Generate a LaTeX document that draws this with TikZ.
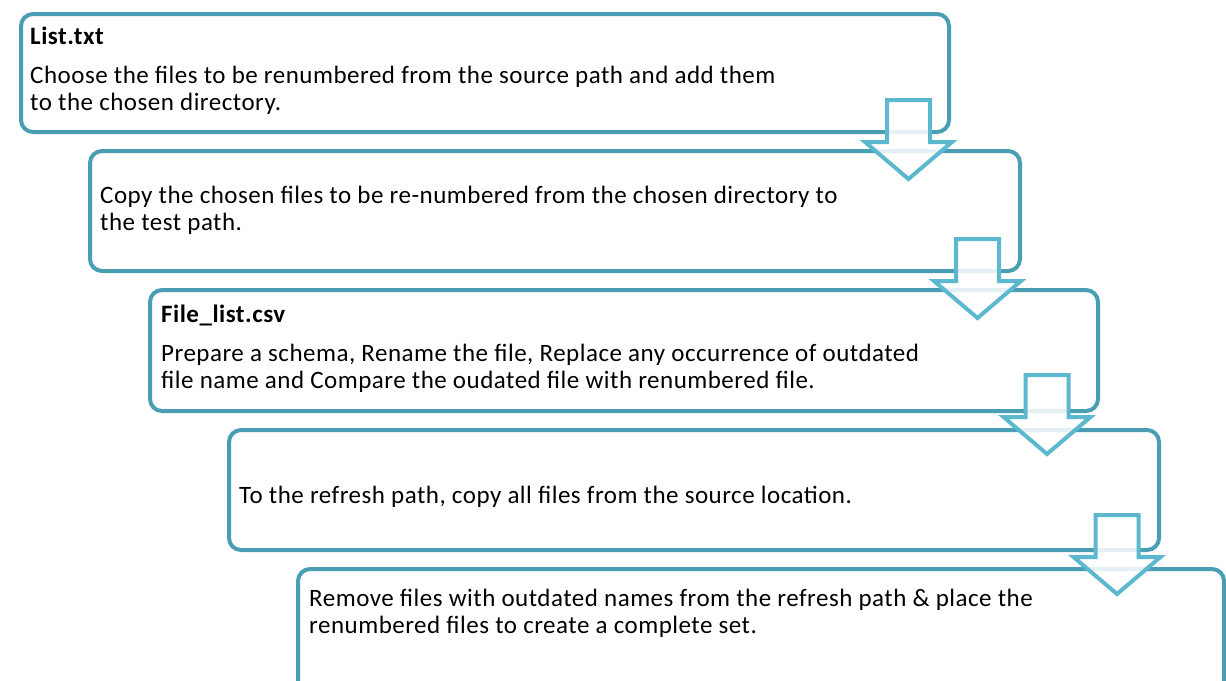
\documentclass[tikz,border=0pt]{standalone}
\usepackage{fontspec}
\setmainfont{Carlito}[LetterSpace=2]
\definecolor{boxblue}{HTML}{4A9EB4}
\definecolor{arrowblue}{HTML}{5CB8CF}
\tikzset{
  stepbox/.style={draw=boxblue, line width=4pt, rounded corners=12pt, fill=white, inner sep=0pt, anchor=north west},
  txt/.style={anchor=base west, inner sep=0pt, align=left, font=\fontsize{25}{26.5}\selectfont},
  headtxt/.style={txt, font=\fontsize{25}{26.5}\selectfont\bfseries},
  arrowline/.style={draw=arrowblue, line width=4pt, fill=white, fill opacity=0.85, line join=miter},
  downarrow/.pic={\path[arrowline] (-21.5,0) -- (21.5,0) -- (21.5,42) -- (43.5,42) -- (0,79) -- (-43.5,42) -- (-21.5,42) -- cycle;}
}
\begin{document}
\begin{tikzpicture}[x=1pt,y=-1pt]
\useasboundingbox (0,0) rectangle (1226,680);
\clip (0,0) rectangle (1226,680);
% boxes
\node[stepbox, minimum width=928pt, minimum height=118pt] (b1) at (19,12) {};
\node[stepbox, minimum width=930pt, minimum height=120pt] (b2) at (88,149) {};
\node[stepbox, minimum width=948pt, minimum height=121pt] (b3) at (148,288) {};
\node[stepbox, minimum width=930pt, minimum height=120pt] (b4) at (227,428) {};
\node[stepbox, minimum width=926pt, minimum height=150pt] (b5) at (296,567) {};
% texts (base anchor = baseline of the last line)
\node[headtxt] (t1h) at (30,44) {List.txt};
\node[txt] (t1) at (30,110) {Choose the files to be renumbered from the source path and add them\\to the chosen directory.};
\node[txt] (t2) at (100,230) {Copy the chosen files to be re-numbered from the chosen directory to\\the test path.};
\node[headtxt] (t3h) at (161,322) {File\_list.csv};
\node[txt] (t3) at (161,388) {Prepare a schema, Rename the file, Replace any occurrence of outdated\\file name and Compare the oudated file with renumbered file.};
\node[txt] (t4) at (239,503) {To the refresh path, copy all files from the source location.};
\node[txt] (t5) at (309,633) {Remove files with outdated names from the refresh path \& place the\\renumbered files to create a complete set.};
% arrows
\pic (a1) at (908.5,100) {downarrow};
\pic (a2) at (977.5,239) {downarrow};
\pic (a3) at (1047,375) {downarrow};
\pic (a4) at (1117,515) {downarrow};
\end{tikzpicture}
\end{document}
